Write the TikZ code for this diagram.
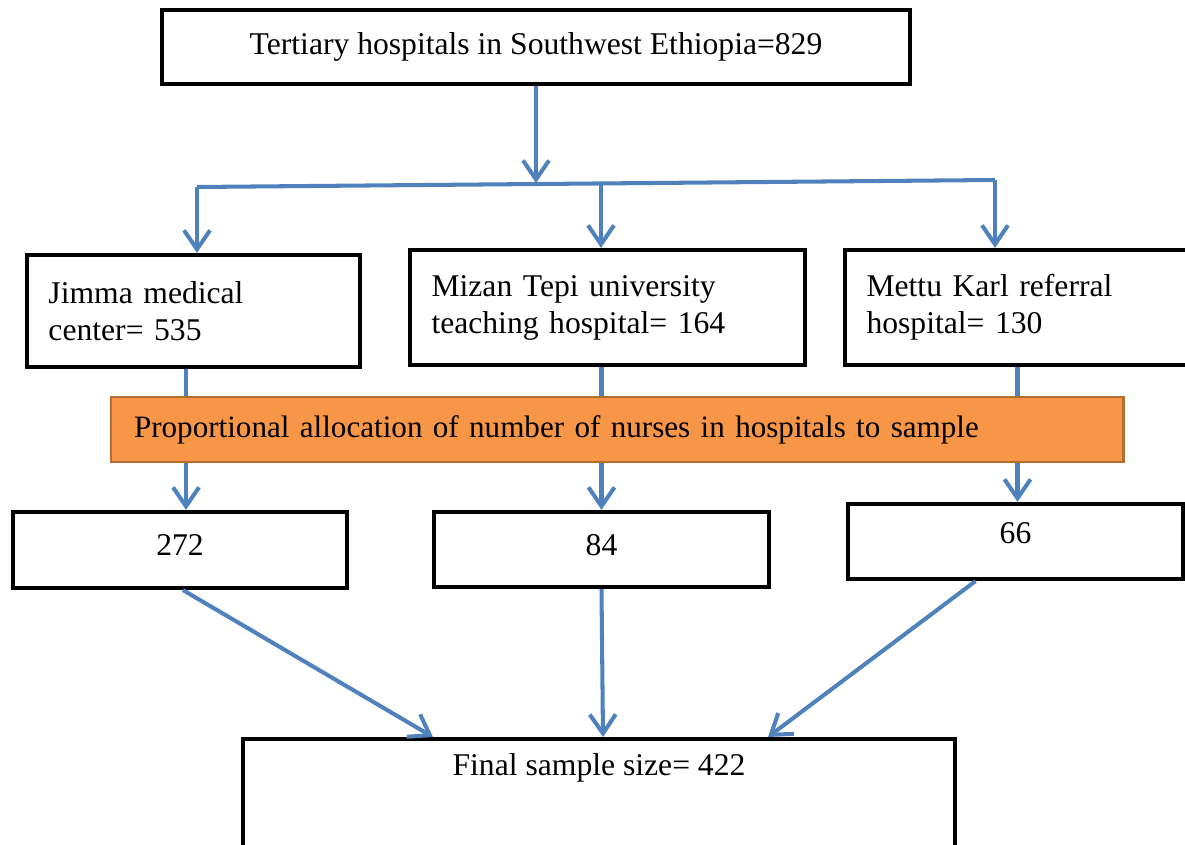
\documentclass[tikz,border=0pt]{standalone}
\usepackage{fontspec}
\setmainfont{Liberation Serif}
\usepackage{xcolor}
\usetikzlibrary{arrows.meta}
\usetikzlibrary{calc}
\definecolor{flowblue}{HTML}{4F81BD}
\definecolor{allocfill}{HTML}{F79646}
\definecolor{allocedge}{HTML}{B66D31}
\tikzset{
	box/.style={draw,line width=2.4pt,rectangle,inner sep=0pt},
	flow/.style={flowblue,line width=2.3pt,-{Straight Barb[length=0.38cm,width=0.52cm,line width=2.3pt]}},
	bus/.style={flowblue,line width=2.3pt}
}

\begin{document}
\begin{tikzpicture}[font=\fontsize{18}{21}\selectfont]
	\useasboundingbox (0,0) rectangle (23.7,-16.9);

	% top
	\node[box,minimum width=14.96cm,minimum height=1.48cm] (top) at (10.72,-0.94) {Tertiary hospitals in Southwest Ethiopia=829};

	% hospitals
	\node[box,minimum width=6.66cm,minimum height=2.24cm,text width=5.8cm,align=left] (jimma) at (3.87,-6.22) {Jimma medical\\center= 535};
	\node[box,minimum width=7.9cm,minimum height=2.3cm,text width=7.04cm,align=left] (mizan) at (12.15,-6.15) {Mizan Tepi university\\teaching hospital= 164};
	\node[box,minimum width=6.9cm,minimum height=2.3cm,text width=6.04cm,align=left] (mettu) at (20.35,-6.15) {Mettu Karl referral\\hospital= 130};

	% samples
	\node[box,minimum width=6.68cm,minimum height=1.52cm,text depth=0.2cm] (n272) at (3.6,-11.0) {272};
	\node[box,minimum width=6.7cm,minimum height=1.5cm,text depth=0.2cm] (n84) at (12.03,-10.99) {84};
	\node[box,minimum width=6.7cm,minimum height=1.5cm,text depth=0.35cm] (n66) at (20.31,-10.83) {66};

	\node[box,anchor=north,minimum width=14.24cm,inner ysep=0.28cm,text height=0.45cm,text depth=1.25cm] (final) at (11.98,-14.74) {Final sample size= 422};

	% branching
	\coordinate (busL) at (3.94,-3.74);
	\coordinate (busR) at (19.9,-3.60);
	\coordinate (busM) at (12.02,-3.66);
	\draw[bus] (busL) -- (busR);
	\draw[flow] (top.south) -- (top.south |- busM);
	\draw[flow] (busL) -- (busL |- jimma.north);
	\draw[flow] (busM) -- (busM |- mizan.north);
	\draw[flow] (busR) -- (busR |- mettu.north);

	% through allocation
	\draw[flow] ([xshift=-0.15cm]jimma.south) -- ([xshift=-0.15cm]jimma.south |- n272.north);
	\draw[flow] (mizan.south -| n84.north) -- (n84.north);
	\draw[flow] (mettu.south) -- (mettu.south |- n66.north);

	\node[draw=allocedge,fill=allocfill,line width=1.7pt,minimum width=20.24cm,minimum height=1.3cm,text width=19.32cm,align=left,font=\fontsize{17.7}{21}\selectfont] (alloc) at (12.34,-8.59) {Proportional allocation of number of nurses in hospitals to sample};

	% to final
	\draw[flow] ([xshift=0.06cm]n272.south) -- ([xshift=-3.32cm]final.north);
	\draw[flow] (n84.south) -- ([xshift=0.08cm]final.north);
	\draw[flow] ([xshift=-0.8cm]n66.south) -- ([xshift=3.38cm]final.north);
\end{tikzpicture}
\end{document}
